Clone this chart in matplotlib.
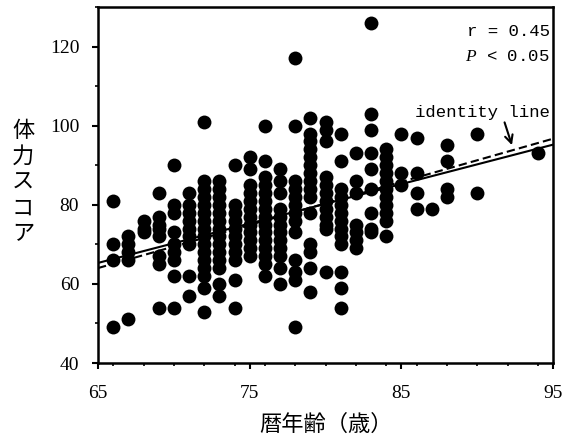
import matplotlib
matplotlib.use("Agg")
import matplotlib.pyplot as plt
from matplotlib.ticker import MultipleLocator
import numpy as np

# ---- data ----
age_groups = {
    66: [81, 70, 66, 49],
    67: [72, 70, 68, 66, 51],
    68: [76, 74, 73],
    69: [83, 77, 75, 74, 72, 67, 65, 54],
    70: [90, 80, 78, 73, 70, 68, 66, 62, 54],
    71: [83, 80, 78, 76, 74, 72, 70, 62, 57],
    72: [101, 86, 84, 82, 80, 78, 76, 74, 72, 70, 68, 66, 64, 62, 59, 53],
    73: [86, 84, 82, 80, 78, 76, 74, 72, 70, 68, 66, 64, 60, 57],
    74: [90, 80, 78, 76, 74, 72, 70, 68, 66, 61, 54],
    75: [92, 89, 85, 83, 81, 79, 77, 75, 73, 71, 69, 67],
    76: [100, 91, 87, 85, 83, 81, 79, 77, 75, 73, 71, 69, 67, 65, 62],
    77: [89, 86, 83, 79, 77, 75, 73, 71, 69, 67, 64, 60],
    78: [117, 100, 86, 84, 82, 80, 78, 76, 73, 66, 63, 61, 49],
    79: [102, 98, 96, 94, 92, 90, 88, 86, 84, 82, 78, 70, 68, 64, 58],
    80: [101, 99, 96, 87, 85, 83, 81, 79, 77, 75, 74, 63],
    81: [98, 91, 84, 82, 80, 78, 76, 74, 72, 70, 63, 59, 54],
    82: [93, 86, 83, 75, 73, 71, 69],
    83: [126, 103, 99, 93, 89, 84, 78, 74, 73],
    84: [94, 92, 90, 88, 86, 84, 82, 80, 78, 76, 72],
    85: [98, 88, 85],
    86: [97, 88, 83, 79],
    87: [79],
    88: [95, 91, 84, 82],
    90: [98, 83],
    94: [93],
}
ages = [a for a, vals in age_groups.items() for _ in vals]
scores = [v for vals in age_groups.values() for v in vals]

line_x = [65, 95]
fit_y = [65.3, 95.2]        # regression line (solid)
identity_y = [64.0, 96.7]   # identity line (dashed)

x_ticks = [65, 75, 85, 95]
y_ticks = [40, 60, 80, 100, 120]

# ---- figure ----
plt.rcParams['font.family'] = ['Liberation Serif', 'DejaVu Serif']
plt.rcParams['mathtext.fontset'] = 'custom'
plt.rcParams['mathtext.it'] = 'Liberation Serif:italic'
plt.rcParams['mathtext.rm'] = 'Liberation Mono'

fig = plt.figure(figsize=(5.62, 4.41), dpi=100)
ax = fig.add_axes([98/562, 1 - 363/441, (553-98)/562, (363-7)/441])

ax.scatter(ages, scores, s=100, c='black', marker='o', linewidths=0, zorder=3)
ax.plot(line_x, fit_y, color='black', lw=1.5, zorder=4)
ax.plot(line_x, identity_y, color='black', lw=1.5, ls=(0, (4, 2)), zorder=4)

ax.set_xlim(65, 95)
ax.set_ylim(40, 130)
ax.set_xticks(x_ticks)
ax.set_yticks(y_ticks)
ax.xaxis.set_minor_locator(MultipleLocator(2))
ax.yaxis.set_minor_locator(MultipleLocator(10))

for sp in ax.spines.values():
    sp.set_linewidth(1.8)
ax.tick_params(axis='x', which='major', direction='out', length=4.5, width=1.5,
               labelsize=14, pad=11)
ax.tick_params(axis='y', which='major', direction='out', length=4.5, width=1.5,
               labelsize=14, pad=9)
ax.tick_params(which='minor', direction='out', length=2.5, width=1.2)

ax.set_xlabel('暦年齢（歳）', fontsize=16, family=['Noto Sans CJK JP', 'DejaVu Sans'],
              labelpad=8)
fig.text(23/562, 1 - 182/441, '体\n力\nス\nコ\nア', fontsize=16,
         family=['Noto Sans CJK JP', 'DejaVu Sans'], ha='center', va='center',
         linespacing=1.15)

ax.text(94.8, 123.8, 'r = 0.45', family='Liberation Mono', fontsize=12.5,
        ha='right', va='center')
ax.text(94.8, 117.5, '$P$ < 0.05', family='Liberation Mono', fontsize=12.5,
        ha='right', va='center')
ax.text(94.8, 103.3, 'identity line', family='Liberation Mono', fontsize=12.5,
        ha='right', va='center')
ax.annotate('', xy=(92.35, 94.4), xytext=(91.75, 101.5),
            arrowprops=dict(arrowstyle='->', color='black', lw=1.5,
                            mutation_scale=14))

fig.savefig('out.png', dpi=100)
